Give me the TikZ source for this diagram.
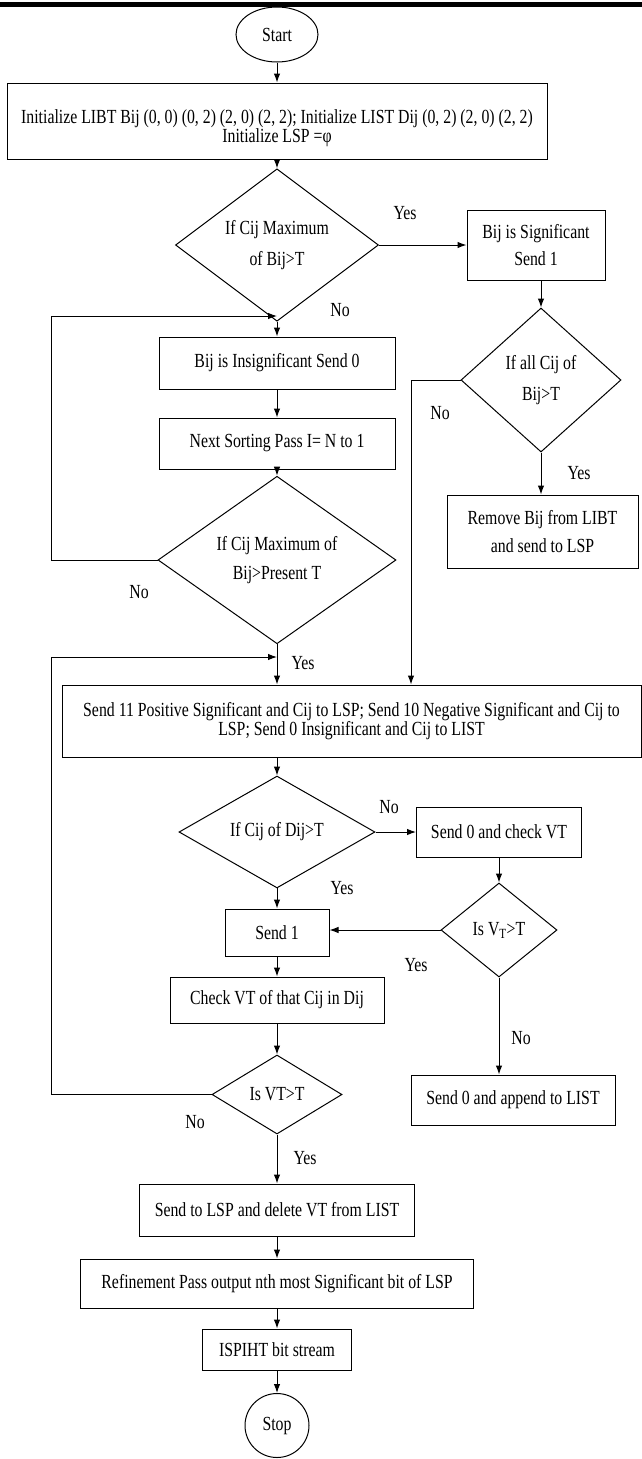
\documentclass[tikz,border=0pt]{standalone}
\usepackage{fontspec}
\setmainfont{Liberation Serif}[FakeStretch=0.79]
\usetikzlibrary{shapes.geometric,arrows.meta}
\begin{document}
\begin{tikzpicture}[x=1pt,y=-1pt,
  every node/.style={font=\fontsize{20}{18.5}\selectfont},
  box/.style={draw, line width=1pt, rectangle, inner sep=0pt, align=center},
  dia/.style={draw, line width=1pt, diamond, inner sep=0pt, align=center},
  term/.style={draw, line width=1pt, ellipse, inner sep=0pt},
  arr/.style={line width=1pt, -{Latex[length=9pt,width=6.5pt]}},
  lbl/.style={inner sep=0pt}]
\path[use as bounding box] (0,0) rectangle (642,1459);
\fill (0,2) rectangle (642,7);

\node[term, minimum width=82pt, minimum height=55pt] (start) at (277,34.5) {Start};
\node[box, minimum width=540pt, minimum height=76pt] (init) at (277,121) {};
\node[align=center, inner sep=0pt] (inittext) at (277,128) {Initialize LIBT Bij (0, 0) (0, 2) (2, 0) (2, 2); Initialize LIST Dij (0, 2) (2, 0) (2, 2)\\Initialize LSP =φ};
\node[dia, minimum width=203pt, minimum height=126pt] (d1) at (277,245) {If Cij Maximum\\[12pt]of Bij>T};
\node[box, minimum width=138pt, minimum height=70pt] (bijsig) at (536,245) {Bij is Significant\\[9pt]Send 1};
\node[dia, minimum width=160pt, minimum height=144pt] (d2) at (541,380) {If all Cij of\\[12pt]Bij>T};
\node[box, minimum width=236pt, minimum height=52pt] (insig) at (277,363) {Bij is Insignificant Send 0};
\node[box, minimum width=236pt, minimum height=51pt] (next) at (277,443.5) {Next Sorting Pass I= N to 1};
\node[dia, minimum width=238pt, minimum height=126pt] (d3) at (277,560) {If Cij Maximum of\\[10pt]Bij>Present T};
\node[box, minimum width=191pt, minimum height=73pt] (remove) at (542.5,531.5) {Remove Bij from LIBT\\[10pt]and send to LSP};
\node[box, minimum width=579pt, minimum height=72pt] (big) at (351.5,721) {Send 11 Positive Significant and Cij to LSP; Send 10 Negative Significant and Cij to\\LSP; Send 0 Insignificant and Cij to LIST};
\node[dia, minimum width=196pt, minimum height=100pt] (d4) at (277,832) {If Cij of Dij>T};
\node[box, minimum width=165pt, minimum height=50pt] (send0check) at (499,832) {Send 0 and check VT};
\node[dia, minimum width=116pt, minimum height=94pt] (d5) at (499,930) {Is V\textsubscript{T}>T};
\node[box, minimum width=104pt, minimum height=47pt] (send1) at (277,932.5) {Send 1};
\node[box, minimum width=214pt, minimum height=46pt] (checkvt) at (277,1000) {Check VT of that Cij in Dij};
\node[dia, minimum width=130pt, minimum height=79pt] (d6) at (277,1094.5) {Is VT>T};
\node[box, minimum width=204pt, minimum height=50pt] (send0append) at (513,1100) {Send 0 and append to LIST};
\node[box, minimum width=275pt, minimum height=52pt] (sendlsp) at (277,1210) {Send to LSP and delete VT from LIST};
\node[box, minimum width=393pt, minimum height=49pt] (refine) at (277,1283.5) {Refinement Pass output nth most Significant bit of LSP};
\node[box, minimum width=149pt, minimum height=41pt] (ispiht) at (277,1349.5) {ISPIHT bit stream};
\node[term, minimum size=64pt] (stop) at (277,1425.5) {Stop};

\coordinate (l1) at (51,316);
\coordinate (m1) at (277,316);
\coordinate (l2) at (51,657);
\coordinate (m2) at (277,657);
\coordinate (c2) at (411,380);

\draw[arr] (start) -- (init);
\draw[arr] (init) -- (d1);
\draw[arr] (d1) -- (bijsig);
\draw[arr] (d2.north |- bijsig.south) -- (d2.north);
\draw[arr] (d1) -- (insig);
\draw[arr] (d3.west) -| (l1) -- (m1);
\draw[arr] (insig) -- (next);
\draw[arr] (next) -- (d3);
\draw[arr] (d2.south) -- (d2.south |- remove.north);
\draw[arr] (d2.west) -- (c2) -- (c2 |- big.north);
\draw[arr] (d3.south) -- (d3.south |- big.north);
\draw[arr] (d6.west) -| (l2) -- (m2);
\draw[arr] (big.south -| d4) -- (d4.north);
\draw[arr] (d4) -- (send0check);
\draw[arr] (send0check) -- (d5);
\draw[arr] (d5.west) -- (d5.west -| send1.east);
\draw[arr] (d4) -- (send1);
\draw[arr] (send1) -- (checkvt);
\draw[arr] (checkvt) -- (d6);
\draw[arr] (d5.south) -- (d5.south |- send0append.north);
\draw[arr] (d6) -- (sendlsp);
\draw[arr] (sendlsp) -- (refine);
\draw[arr] (refine) -- (ispiht);
\draw[arr] (ispiht) -- (stop);

\node[lbl] (y1) at (405,213) {Yes};
\node[lbl] (n1) at (340,310) {No};
\node[lbl] (n2) at (440,413) {No};
\node[lbl] (y2) at (579,473) {Yes};
\node[lbl] (n3) at (139,592) {No};
\node[lbl] (y3) at (303,663) {Yes};
\node[lbl] (n4) at (389,807) {No};
\node[lbl] (y4) at (342,888) {Yes};
\node[lbl] (y5) at (416,965) {Yes};
\node[lbl] (n5) at (521,1038) {No};
\node[lbl] (n6) at (195,1122) {No};
\node[lbl] (y6) at (305,1158) {Yes};
\end{tikzpicture}
\end{document}
